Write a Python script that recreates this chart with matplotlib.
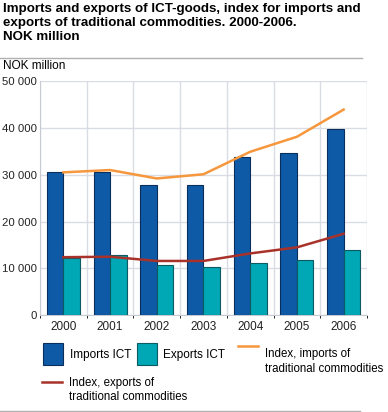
import numpy as np
import matplotlib.pyplot as plt
from matplotlib.patches import Rectangle
from matplotlib.lines import Line2D

plt.rcParams['font.family'] = ['Liberation Sans', 'DejaVu Sans']

years = ["2000", "2001", "2002", "2003", "2004", "2005", "2006"]
imports_ict = [30500, 30500, 27700, 27900, 33800, 34700, 39700]
exports_ict = [12300, 12900, 10700, 10400, 11200, 11900, 13900]
index_imports = [30500, 31000, 29200, 30100, 34900, 38100, 43900]
index_exports = [12400, 12500, 11600, 11600, 13200, 14500, 17400]

c_imp = "#0f5aa6"
c_exp = "#00a7b5"
c_idx_imp = "#f7973d"
c_idx_exp = "#a8322a"
grid_c = "#d9dde3"

W, H = 388, 412
fig = plt.figure(figsize=(W / 100, H / 100), dpi=100)
ax = fig.add_axes([40 / W, 1 - 315.3 / H, 327 / W, 234.3 / H])

x = np.arange(len(years))
bw = 0.354
ax.bar(x - bw / 2, imports_ict, bw, color=c_imp, edgecolor="#0b2f5c", linewidth=0.8, zorder=3)
ax.bar(x + bw / 2, exports_ict, bw, color=c_exp, edgecolor="#0d5a63", linewidth=0.8, zorder=3)
ax.plot(x, index_imports, color=c_idx_imp, linewidth=1.8, zorder=4)
ax.plot(x, index_exports, color=c_idx_exp, linewidth=1.8, zorder=4)

ax.set_xlim(-0.5, len(years) - 0.5)
ax.set_ylim(0, 50000)
ax.set_yticks(range(0, 50001, 10000))
ax.set_yticklabels(["0", "10 000", "20 000", "30 000", "40 000", "50 000"], fontsize=8.2)
ax.set_xticks(x)
ax.set_xticklabels(years, fontsize=8.5)
ax.set_xticks(np.arange(-0.5, len(years)), minor=True)
ax.tick_params(axis="both", length=0, colors="#222222")
ax.tick_params(axis="y", pad=2)
ax.tick_params(axis="x", pad=4)
ax.grid(axis="y", color=grid_c, linewidth=1, zorder=0)
ax.grid(axis="x", which="minor", color=grid_c, linewidth=1, zorder=0)
for s in ax.spines.values():
    s.set_visible(False)
ax.spines["left"].set_visible(True)
ax.spines["left"].set_color("#c8ccd2")
ax.spines["bottom"].set_visible(True)
ax.spines["bottom"].set_color("#c8ccd2")

# title and unit
fig.text(3 / W, 1 - 23 / H, "Imports and exports of ICT-goods, index for imports and\n"
         "exports of traditional commodities. 2000-2006.\nNOK million",
         fontsize=9.6, fontweight="bold", va="center", ha="left", linespacing=1.2)
fig.add_artist(Line2D([0, 362 / W], [1 - 58 / H] * 2, color="#b0b0b0", linewidth=1))
fig.text(3 / W, 1 - 66 / H, "NOK million", fontsize=8.5, va="center", ha="left")
fig.add_artist(Line2D([0, 360 / W], [1 - 411 / H] * 2, color="#b0b0b0", linewidth=1))

# legend
def fx(px):
    return px / W

def fy(py):
    return 1 - py / H

fig.add_artist(Rectangle((fx(43), fy(365)), 20 / W, 22 / H, facecolor=c_imp, edgecolor="#0b2f5c", linewidth=0.8))
fig.text(fx(70), fy(355), "Imports ICT", fontsize=8.5, va="center")
fig.add_artist(Rectangle((fx(137), fy(365)), 20 / W, 22 / H, facecolor=c_exp, edgecolor="#0d5a63", linewidth=0.8))
fig.text(fx(163), fy(355), "Exports ICT", fontsize=8.5, va="center")
fig.add_artist(Line2D([fx(238), fx(258)], [fy(346)] * 2, color=c_idx_imp, linewidth=1.8))
fig.text(fx(265), fy(361.5), "Index, imports of\ntraditional commodities", fontsize=8.3, va="center", linespacing=1.3)
fig.add_artist(Line2D([fx(42), fx(62)], [fy(382)] * 2, color=c_idx_exp, linewidth=1.8))
fig.text(fx(69), fy(390), "Index, exports of\ntraditional commodities", fontsize=8.3, va="center", linespacing=1.3)

fig.savefig("out.png", dpi=100)
